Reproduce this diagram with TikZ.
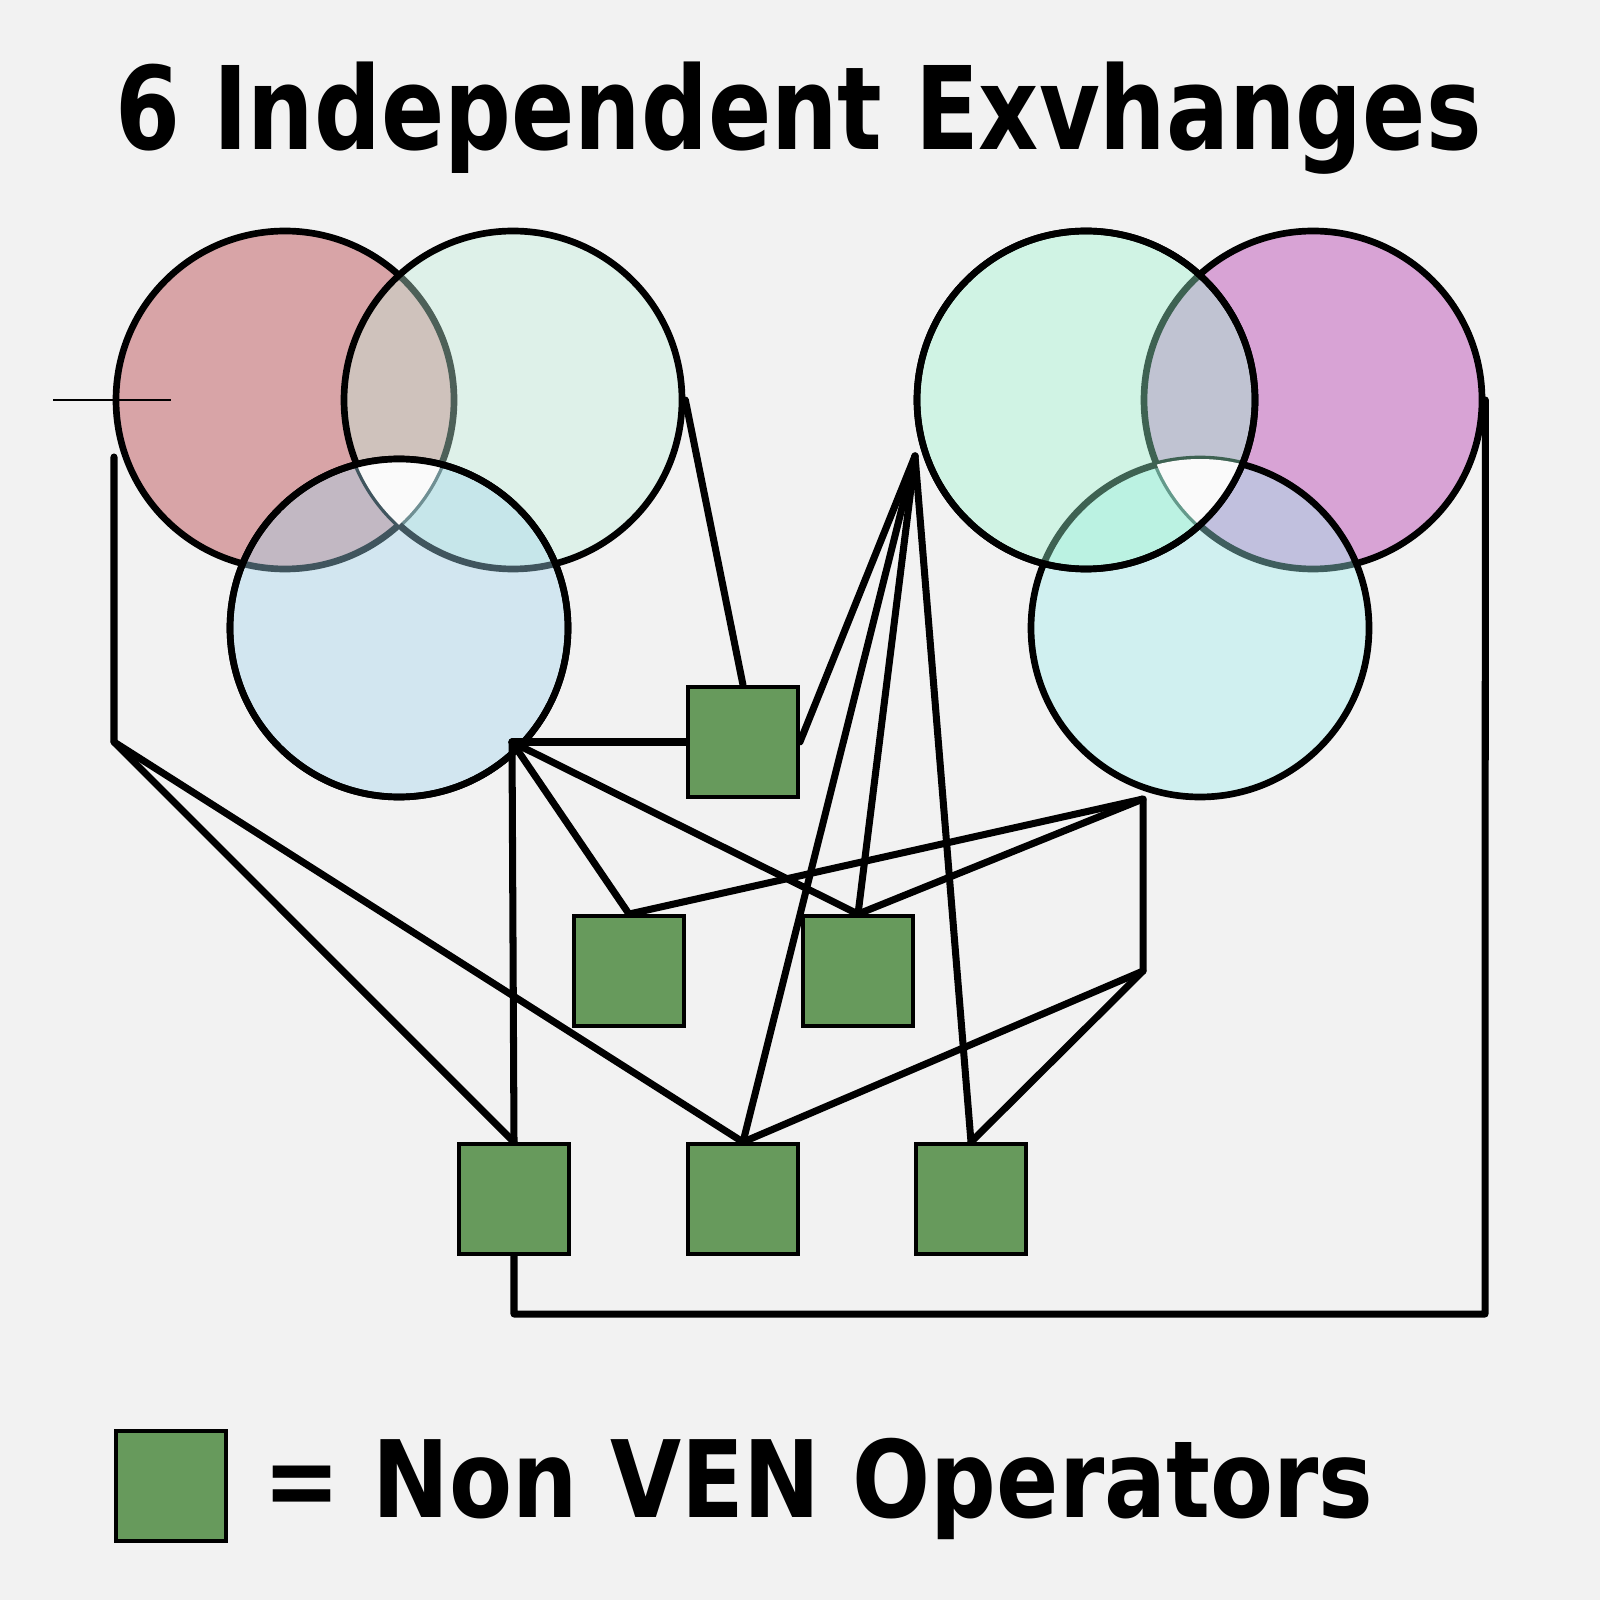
\documentclass[tikz,border=0pt]{standalone}
\usepackage{fontspec}
\setmainfont{DejaVu Sans}
\usetikzlibrary{positioning}
\definecolor{bgGrey}{HTML}{F2F2F2}
\definecolor{exRed}{HTML}{B12F37}
\definecolor{exMint}{HTML}{C2F0DC}
\definecolor{exBlue}{HTML}{A2D6ED}
\definecolor{exSea}{HTML}{9DF5CF}
\definecolor{exPink}{HTML}{B32DAA}
\definecolor{exCyan}{HTML}{9FEDED}
\definecolor{opGreen}{HTML}{679A5C}

\begin{document}
\begin{tikzpicture}[y=-1cm,
  exch/.style={circle,draw=black,line width=1.9pt,minimum size=3.38cm,inner sep=0pt,fill opacity=0.4},
  oper/.style={rectangle,draw=black,line width=1.1pt,fill=opGreen,minimum size=1.10cm,inner sep=0pt},
  link/.style={line width=2pt,line cap=round,line join=round}]
  \fill[bgGrey] (0,0) rectangle (16,16);
  \useasboundingbox (0,0) rectangle (16,16);

  % title
  \node[anchor=base west,inner sep=0pt,font=\fontsize{32.8pt}{36pt}\selectfont\bfseries] (title) at (1.15,1.50)
    {\scalebox{0.81}[1]{6 Independent Exvhanges}};

  % left group of exchanges
  \node[exch,fill=exRed] (ex1) at (2.85,4.00) {};
  \node[exch,fill=exMint] (ex2) at (5.13,4.00) {};
  \node[exch,fill=exBlue] (ex3) at (3.99,6.28) {};
  \begin{scope}
    \clip (ex1.center) circle (1.69cm);
    \clip (ex2.center) circle (1.69cm);
    \fill[white!60!bgGrey] (ex3.center) circle (1.69cm);
  \end{scope}
  \draw[line width=1.9pt] (ex3.center) circle (1.69cm);

  % right group of exchanges
  \node[exch,fill=exPink] (ex5) at (13.13,4.00) {};
  \node[exch,fill=exCyan] (ex6) at (12.00,6.28) {};
  \node[exch,fill=exSea] (ex4) at (10.86,4.00) {};
  \begin{scope}
    \clip (ex5.center) circle (1.69cm);
    \clip (ex6.center) circle (1.69cm);
    \fill[white!60!bgGrey] (ex4.center) circle (1.69cm);
  \end{scope}
  \draw[line width=1.9pt] (ex4.center) circle (1.69cm);

  % operators
  \node[oper] (op1) at (7.43,7.42) {};
  \node[oper] (op2) at (6.29,9.71) {};
  \node[oper] (op3) at (8.58,9.71) {};
  \node[oper] (op4) at (5.14,11.99) {};
  \node[oper] (op5) at (7.43,11.99) {};
  \node[oper] (op6) at (9.71,11.99) {};

  % junctions
  \coordinate (jLtop) at (1.14,4.57);
  \coordinate (jL) at (1.14,7.42);
  \coordinate (jM) at (5.12,7.42);
  \coordinate (fan) at (9.15,4.56);
  \coordinate (rT) at (11.43,7.99);
  \coordinate (rB) at (11.43,9.71);
  \coordinate (cBR) at (14.85,13.14);
  \coordinate (tickL) at (0.53,4.00);
  \coordinate (tickR) at (1.71,4.00);

  % links
  \draw[link] (jLtop) -- (jL) -- (op4.north);
  \draw[link] (jL) -- (op5.north);
  \foreach \t in {op1.west,op4.north,op2.north,op3.north}
    \draw[link] (jM) -- (\t);
  \draw[link] (ex2.east) -- (op1.north);
  \foreach \t in {op1.east,op3.north,op5.north,op6.north}
    \draw[link] (fan) -- (\t);
  \draw[link] (op2.north) -- (rT) -- (rB) -- (op5.north);
  \draw[link] (op3.north) -- (rT);
  \draw[link] (rB) -- (op6.north);
  \draw[link] (ex5.east) -- (cBR) -- (op4.south |- cBR) -- (op4.south);
  \draw[line width=0.4pt] (tickL) -- (tickR);

  % legend
  \node[oper] (legendbox) at (1.71,14.86) {};
  \node[anchor=base west,inner sep=0pt,font=\fontsize{30.4pt}{34pt}\selectfont\bfseries] (legendtext) at (2.63,15.17)
    {\scalebox{0.86}[1]{= Non VEN Operators}};
\end{tikzpicture}
\end{document}
